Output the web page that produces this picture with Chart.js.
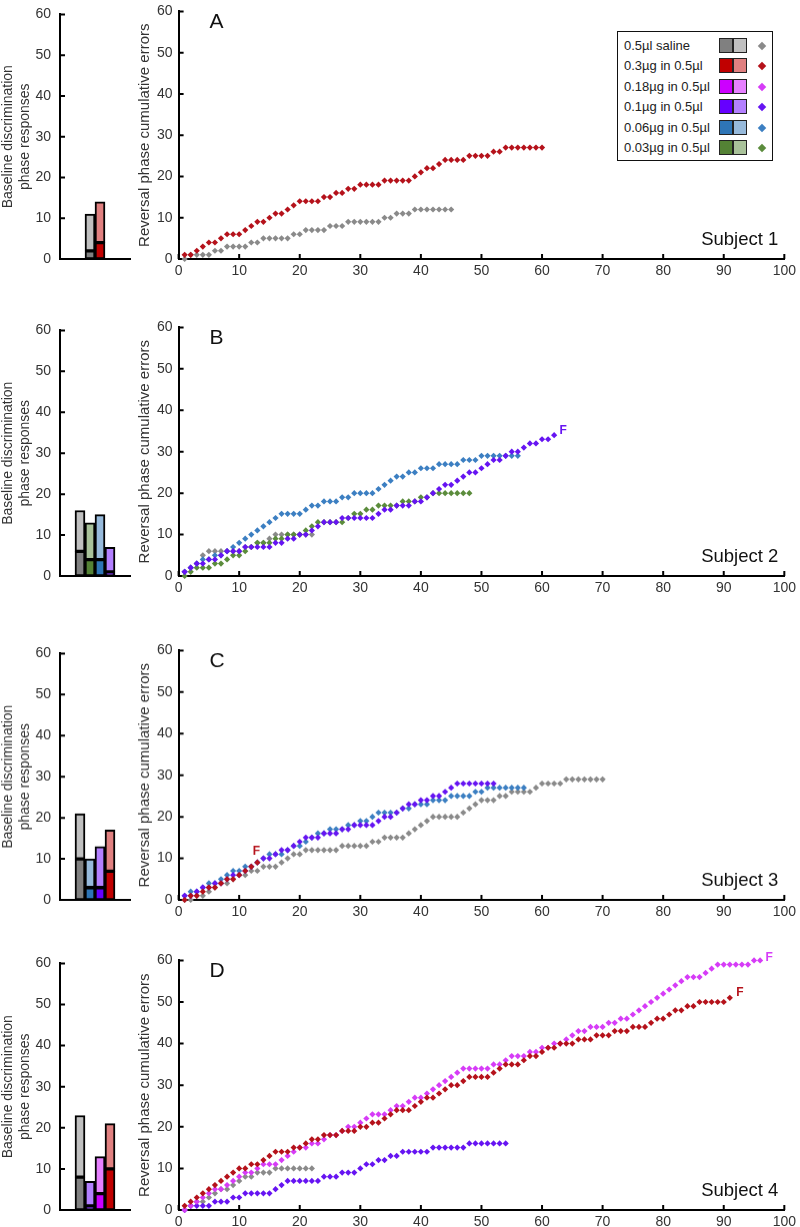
<!DOCTYPE html>
<html>
<head>
<meta charset="utf-8">
<script src="https://cdn.jsdelivr.net/npm/chart.js@4.4.1/dist/chart.umd.min.js"></script>
<style>
  body { margin: 0; background: #fff; }
  #page { position: relative; width: 800px; height: 1227px; overflow: hidden; font-family: "Liberation Sans", Arial, sans-serif; }
  .holder { position: absolute; }
  #legend { position: absolute; left: 617px; top: 31px; width: 154px; height: 128px; border: 1.5px solid #111; background: #fff; }
  .lrow { position: absolute; left: 0; width: 100%; height: 16px; }
  .ltxt { position: absolute; left: 6px; top: 0; font-size: 13px; line-height: 16px; color: #222; white-space: nowrap; }
  .sw { position: absolute; top: 0; width: 12px; height: 13px; border: 1.5px solid #222; }
  .dia { position: absolute; top: 5px; width: 6px; height: 6px; transform: rotate(45deg); }
</style>
</head>
<body>
<div id="page"></div>
<script>
// doses, in legend order
const doses = ['0.5µl saline', '0.3µg in 0.5µl', '0.18µg in 0.5µl', '0.1µg in 0.5µl', '0.06µg in 0.5µl', '0.03µg in 0.5µl'];
const darkCol = ['#808080', '#c00000', '#cc00ff', '#6600ff', '#2e75b6', '#548235'];
const lightCol = ['#c0c0c0', '#e08080', '#e680ff', '#b380ff', '#97badb', '#a9c29a'];
const dotCol = ['#8a8a8a', '#b5121b', '#d63cf7', '#6614f2', '#3c7fc2', '#5b8c3c'];

const panelLetters = ['A', 'B', 'C', 'D'];
const subjects = ['Subject 1', 'Subject 2', 'Subject 3', 'Subject 4'];
const xTicks = [0, 10, 20, 30, 40, 50, 60, 70, 80, 90, 100];
const yTicks = [0, 10, 20, 30, 40, 50, 60];

// baseline bars: slot on the small x axis, dose index, dark (lower) part, total height
const s1BarSlot = [3, 4];
const s1BarDose = [0, 1];
const s1BarLow = [2, 4];
const s1BarTotal = [11, 14];

const s2BarSlot = [2, 3, 4, 5];
const s2BarDose = [0, 5, 4, 3];
const s2BarLow = [6, 4, 4, 1];
const s2BarTotal = [16, 13, 15, 7];

const s3BarSlot = [2, 3, 4, 5];
const s3BarDose = [0, 4, 3, 1];
const s3BarLow = [10, 3, 3, 7];
const s3BarTotal = [21, 10, 13, 17];

const s4BarSlot = [2, 3, 4, 5];
const s4BarDose = [0, 3, 2, 1];
const s4BarLow = [8, 1, 4, 10];
const s4BarTotal = [23, 7, 13, 21];

// cumulative errors, one value per reversal trial (trial 1, 2, 3 ...)
const s1Dose03 = [1,1,2,3,4,4,5,6,6,6,7,8,9,9,10,11,11,12,13,14,14,14,14,15,15,16,16,17,17,18,18,18,18,19,19,19,19,19,20,21,22,22,23,24,24,24,24,25,25,25,25,26,26,27,27,27,27,27,27,27];
const s1Saline = [0,1,1,1,1,2,2,3,3,3,3,4,4,5,5,5,5,5,6,6,7,7,7,7,8,8,8,9,9,9,9,9,9,10,10,11,11,11,12,12,12,12,12,12,12];

const s2Dose01 = [1,2,3,3,4,4,5,6,6,6,7,7,7,7,7,8,8,9,9,10,10,11,12,13,13,13,14,14,14,14,14,14,15,16,16,17,17,17,18,18,19,20,21,22,22,23,24,25,25,26,27,28,28,29,30,30,31,32,32,33,33,34];
const s2Dose006 = [1,2,3,4,4,5,5,6,7,8,9,10,11,12,13,14,15,15,15,15,16,17,17,18,18,18,19,19,20,20,20,20,21,22,23,24,24,25,25,26,26,26,27,27,27,27,28,28,28,29,29,29,29,29,29,29];
const s2Dose003 = [0,1,2,2,2,3,3,4,5,5,6,7,8,8,8,9,9,10,10,10,11,12,13,13,13,13,13,14,15,15,16,16,17,17,17,17,18,18,18,19,19,20,20,20,20,20,20,20];
const s2Saline = [1,2,3,5,6,6,6,6,6,6,7,7,8,8,9,10,10,10,10,10,10,10];

const s3Dose03 = [0,1,1,2,3,3,4,5,5,6,7,8,9];
const s3Dose01 = [1,1,2,3,3,4,4,5,6,6,7,8,9,10,10,11,12,12,13,14,15,15,15,16,16,16,17,17,18,18,18,18,19,20,20,21,22,23,23,24,24,25,25,26,27,28,28,28,28,28,28,28];
const s3Dose006 = [1,2,2,3,4,4,5,6,7,7,8,8,9,10,11,11,11,12,13,13,14,15,16,16,17,17,17,18,18,19,19,20,21,21,21,21,22,22,23,23,23,24,24,24,25,25,25,25,26,26,27,27,27,27,27,27,27];
const s3Saline = [0,0,1,1,2,3,4,4,5,6,6,7,7,8,8,8,9,10,11,11,12,12,12,12,12,12,13,13,13,13,13,14,14,15,15,15,15,16,17,18,19,20,20,20,20,20,21,22,23,24,24,24,25,25,26,26,26,26,27,28,28,28,28,29,29,29,29,29,29,29];

const s4Dose03 = [1,2,3,4,5,6,7,8,9,10,10,11,11,12,13,14,14,14,15,15,16,17,17,18,18,18,19,19,19,20,20,21,21,22,23,24,24,24,25,26,27,27,28,29,30,30,31,32,32,32,32,33,34,35,35,35,36,37,37,38,39,39,40,40,40,41,41,41,42,42,42,43,43,43,44,44,44,45,46,46,47,48,48,49,49,50,50,50,50,50,51];
const s4Dose018 = [0,1,2,3,4,5,5,6,7,8,9,9,10,11,11,11,12,13,14,15,15,16,16,17,18,18,19,20,20,21,22,23,23,23,24,25,25,26,27,27,28,29,30,31,32,33,34,34,34,34,34,35,35,36,37,37,37,38,38,39,39,40,40,41,42,43,43,44,44,44,45,45,46,46,47,48,49,50,51,52,53,54,55,56,56,56,57,58,59,59,59,59,59,59,60,60];
const s4Dose01 = [0,1,1,1,1,2,2,2,3,3,4,4,4,4,4,5,6,7,7,7,7,7,7,8,8,8,9,9,9,10,11,11,12,12,13,13,14,14,14,14,14,15,15,15,15,15,15,16,16,16,16,16,16,16];
const s4Saline = [0,1,2,2,3,4,5,5,6,7,8,8,9,9,9,10,10,10,10,10,10,10];

// which curves each subject shows (first one drawn on top), and which end in "F"
const panels = [
  { bars: [s1BarSlot, s1BarDose, s1BarLow, s1BarTotal],
    series: [[s1Dose03, 1], [s1Saline, 0]], finals: [] },
  { bars: [s2BarSlot, s2BarDose, s2BarLow, s2BarTotal],
    series: [[s2Dose01, 3], [s2Dose006, 4], [s2Dose003, 5], [s2Saline, 0]], finals: [{ ds: 0, dx: 9, dy: -4 }] },
  { bars: [s3BarSlot, s3BarDose, s3BarLow, s3BarTotal],
    series: [[s3Dose03, 1], [s3Dose01, 3], [s3Dose006, 4], [s3Saline, 0]], finals: [{ ds: 0, dx: -1, dy: -11 }] },
  { bars: [s4BarSlot, s4BarDose, s4BarLow, s4BarTotal],
    series: [[s4Dose03, 1], [s4Dose018, 2], [s4Dose01, 3], [s4Saline, 0]], finals: [{ ds: 0, dx: 10, dy: -5 }, { ds: 1, dx: 9, dy: -3 }] }
];

// plot area of each row (y of 60 and y of 0)
const rows = [[7, 259], [322.5, 575.5], [646, 899.5], [956, 1210]];

Chart.defaults.font.family = '"Liberation Sans", Arial, sans-serif';
Chart.defaults.color = '#333';

const page = document.getElementById('page');

function makeCanvas(left, top, w, h) {
  const d = document.createElement('div');
  d.className = 'holder';
  d.style.left = left + 'px';
  d.style.top = top + 'px';
  const c = document.createElement('canvas');
  c.width = w;
  c.height = h;
  c.style.width = w + 'px';
  c.style.height = h + 'px';
  d.appendChild(c);
  page.appendChild(d);
  return c;
}

// ticks pointing into the plot
const inTicks = {
  id: 'inTicks',
  beforeDatasetsDraw(chart) {
    const ctx = chart.ctx, a = chart.chartArea;
    ctx.save();
    ctx.strokeStyle = '#000';
    ctx.lineWidth = 2;
    ctx.beginPath();
    chart.scales.y.ticks.forEach(t => {
      const p = chart.scales.y.getPixelForValue(t.value);
      ctx.moveTo(a.left, p);
      ctx.lineTo(a.left + 5, p);
    });
    if (chart.scales.x.options.ticks.display) {
      chart.scales.x.ticks.forEach(t => {
        const p = chart.scales.x.getPixelForValue(t.value);
        ctx.moveTo(p, a.bottom);
        ctx.lineTo(p, a.bottom - 5);
      });
    }
    ctx.stroke();
    ctx.restore();
  }
};

const panelText = {
  id: 'panelText',
  afterDraw(chart, args, opts) {
    const ctx = chart.ctx, a = chart.chartArea;
    ctx.save();
    ctx.fillStyle = '#111';
    ctx.textBaseline = 'alphabetic';
    ctx.textAlign = 'left';
    ctx.font = '21px "Liberation Sans", Arial, sans-serif';
    ctx.fillText(opts.letter, a.left + 31, a.top + 17);
    ctx.textAlign = 'right';
    ctx.font = '18.5px "Liberation Sans", Arial, sans-serif';
    ctx.fillText(opts.subject, a.right - 6, a.bottom - 14);
    ctx.font = 'bold 12px "Liberation Sans", Arial, sans-serif';
    ctx.textAlign = 'center';
    ctx.textBaseline = 'middle';
    opts.finals.forEach(f => {
      const pts = chart.getDatasetMeta(f.ds).data;
      const last = pts[pts.length - 1];
      ctx.fillStyle = chart.data.datasets[f.ds].backgroundColor;
      ctx.fillText('F', last.x + f.dx, last.y + f.dy);
    });
    ctx.restore();
  }
};

const tickFont = { size: 14 };

panels.forEach((p, r) => {
  const [top, bottom] = rows[r];
  const h = bottom - top + 32;

  // baseline bar chart
  const [slot, dose, low, total] = p.bars;
  new Chart(makeCanvas(0, top - 10, 140, h), {
    type: 'bar',
    data: {
      datasets: [
        { data: slot.map((s, i) => ({ x: s, y: low[i] })), backgroundColor: dose.map(d => darkCol[d]) },
        { data: slot.map((s, i) => ({ x: s, y: total[i] - low[i] })), backgroundColor: dose.map(d => lightCol[d]) }
      ]
    },
    options: {
      responsive: false, animation: false, events: [],
      layout: { padding: { top: 10, right: 10, left: 0, bottom: 0 } },
      datasets: { bar: { barThickness: 10, borderColor: '#000', borderWidth: 2, borderSkipped: false } },
      plugins: { legend: { display: false }, tooltip: { enabled: false } },
      scales: {
        x: { type: 'linear', min: 0, max: 7, stacked: true, offset: false,
             ticks: { display: false }, grid: { display: false, drawTicks: false },
             border: { color: '#000', width: 2 },
             afterFit: s => { s.height = 22; } },
        y: { min: 0, max: 60, stacked: true,
             afterBuildTicks: s => { s.ticks = yTicks.map(v => ({ value: v })); },
             ticks: { padding: 9, font: tickFont, color: '#333' },
             grid: { display: false, drawTicks: false },
             border: { color: '#000', width: 2 },
             title: { display: true, text: ['Baseline discrimination', 'phase responses'], font: { size: 14 }, color: '#333', padding: 0 },
             afterFit: s => { s.width = 60; } }
      }
    },
    plugins: [inTicks]
  });

  // cumulative error curves
  new Chart(makeCanvas(136, top - 10, 664, h), {
    type: 'scatter',
    data: {
      datasets: p.series.map(([vals, d]) => ({
        data: vals.map((v, i) => ({ x: i + 1, y: v })),
        backgroundColor: dotCol[d],
        pointStyle: 'rectRot',
        pointRadius: 3.1,
        borderWidth: 0,
        clip: false
      }))
    },
    options: {
      responsive: false, animation: false, events: [],
      layout: { padding: { top: 10, right: 14, left: 0, bottom: 0 } },
      plugins: {
        legend: { display: false }, tooltip: { enabled: false },
        panelText: { letter: panelLetters[r], subject: subjects[r], finals: p.finals }
      },
      scales: {
        x: { type: 'linear', min: 0, max: 100,
             afterBuildTicks: s => { s.ticks = xTicks.map(v => ({ value: v })); },
             ticks: { padding: 4, font: tickFont, color: '#333', maxRotation: 0 },
             grid: { display: false, drawTicks: false },
             border: { color: '#000', width: 2 },
             afterFit: s => { s.height = 22; } },
        y: { min: 0, max: 60,
             afterBuildTicks: s => { s.ticks = yTicks.map(v => ({ value: v })); },
             ticks: { padding: 6, font: tickFont, color: '#333' },
             grid: { display: false, drawTicks: false },
             border: { color: '#000', width: 2 },
             title: { display: true, text: 'Reversal phase cumulative errors', font: { size: 15 }, color: '#333', padding: 0 },
             afterFit: s => { s.width = 42.6; } }
      }
    },
    plugins: [inTicks, panelText]
  });
});

// legend box in panel A
const lg = document.createElement('div');
lg.id = 'legend';
doses.forEach((d, i) => {
  const row = document.createElement('div');
  row.className = 'lrow';
  row.style.top = (6 + i * 20.45) + 'px';
  row.innerHTML =
    '<span class="ltxt">' + d + '</span>' +
    '<span class="sw" style="left:101px;background:' + darkCol[i] + '"></span>' +
    '<span class="sw" style="left:115px;background:' + lightCol[i] + '"></span>' +
    '<span class="dia" style="left:141px;background:' + dotCol[i] + '"></span>';
  lg.appendChild(row);
});
page.appendChild(lg);
</script>
</body>
</html>
